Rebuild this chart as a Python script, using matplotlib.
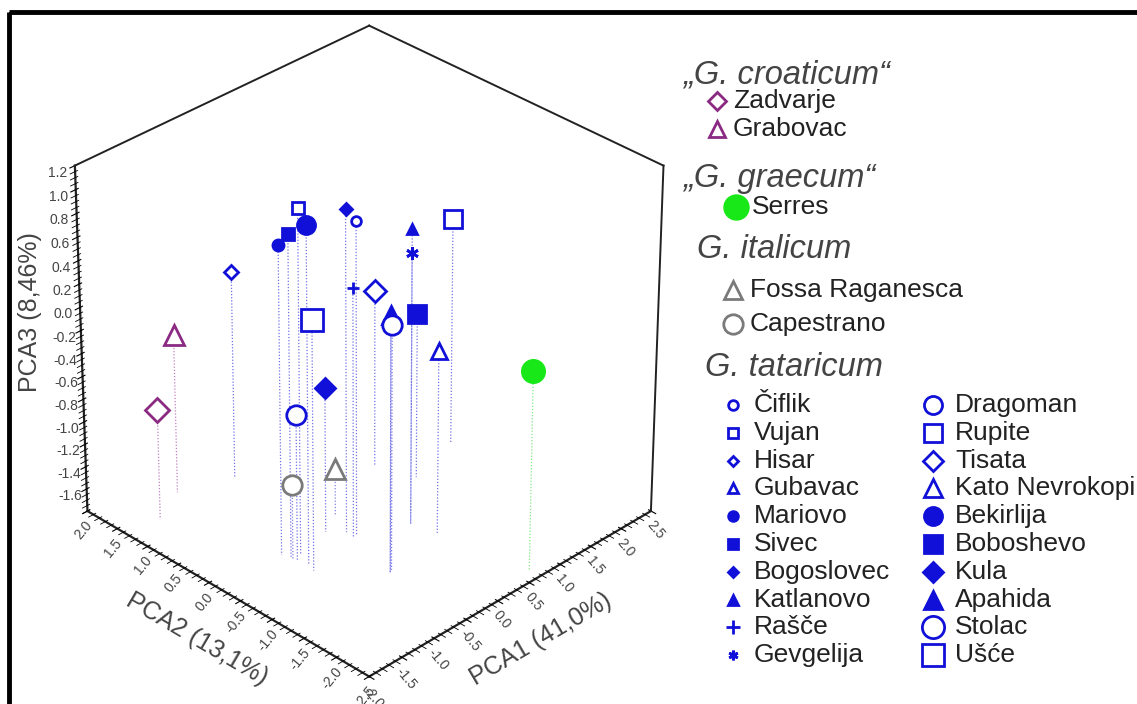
import matplotlib
matplotlib.use('Agg')
import matplotlib.pyplot as plt
from matplotlib.patches import Rectangle
from matplotlib.ticker import AutoMinorLocator

plt.rcParams['font.family'] = ['Liberation Sans', 'DejaVu Sans']
plt.rcParams['axes.unicode_minus'] = False

# population data: PCA1, PCA2, PCA3
names = ['Zadvarje', 'Grabovac', 'Serres', 'Fossa Raganesca', 'Capestrano',
         'Čiflik', 'Vujan', 'Hisar', 'Gubavac', 'Mariovo', 'Sivec', 'Bogoslovec',
         'Katlanovo', 'Rašče', 'Gevgelija',
         'Dragoman', 'Rupite', 'Tisata', 'Kato Nevrokopi', 'Bekirlija', 'Boboshevo',
         'Kula', 'Apahida', 'Stolac', 'Ušće']
pca1 = [-1.52, -1.02, 0.66, -0.09, -1.03,
        -0.19, -0.90, -0.34, -0.45, -1.06, -1.01, -0.23, 0.40, -0.25, 0.40,
        -1.00, 1.91, 0.95, 0.48, -0.97, 1.12, -0.39, -0.45, -0.40, -1.02]
pca2 = [1.31, 1.56, -2.35, -0.05, -0.33,
        -0.49, -0.32, 1.33, -1.28, -0.18, -0.28, -0.37, -0.76, -0.50, -0.76,
        -0.37, 0.08, 0.36, -1.10, -0.52, -0.14, -0.20, -1.28, -1.25, -0.65]
pca3 = [-0.83, -0.40, -0.05, -1.38, -1.14,
        0.93, 1.18, 0.02, 0.40, 0.88, 0.99, 1.00, 0.77, 0.38, 0.57,
        -0.52, 0.20, -0.24, -0.19, 1.12, -0.34, -0.52, 0.44, 0.33, 0.38]
species = ['croaticum', 'croaticum', 'graecum', 'italicum', 'italicum'] + ['tataricum'] * 20
markers = ['D', '^', 'o', '^', 'o',
           'o', 's', 'D', '^', 'o', 's', 'D', '^', '+', (6, 2, 0),
           'o', 's', 'D', '^', 'o', 's', 'D', '^', 'o', 's']
filled = [False, False, True, False, False,
          False, False, False, False, True, True, True, True, True, True,
          False, False, False, False, True, True, True, True, False, False]
msize = [12, 14, 16, 14, 14,
         7, 8, 7, 7, 8, 8, 6.5, 7, 9, 9,
         14, 13, 11, 12, 13, 13, 10, 13, 14, 16]

colors = {'croaticum': '#8a2a82', 'graecum': '#18e818', 'italicum': '#7a7a7a',
          'tataricum': '#1010d8'}
drop_colors = {'croaticum': '#c080c0', 'graecum': '#80e880', 'italicum': '#8080e0',
               'tataricum': '#7070e8'}

headers = ['\u201eG. croaticum\u201c', '\u201eG. graecum\u201c', 'G. italicum', 'G. tataricum']

xlim = (-2.0, 2.5)
ylim = (-2.5, 2.0)
zlim = (-1.8, 1.2)

fig = plt.figure(figsize=(11.37, 7.04), dpi=100)
ax = fig.add_axes([-0.044, -0.02, 0.72, 1.04], projection='3d', computed_zorder=False)
ax.view_init(elev=32, azim=-135)
ax.set_proj_type('persp', focal_length=1.25)
ax.set_box_aspect((1, 1, 1), zoom=0.935)
ax.set_xlim(*xlim)
ax.set_ylim(*ylim)
ax.set_zlim(*zlim)
ax.grid(False)
for a in (ax.xaxis, ax.yaxis, ax.zaxis):
    a.pane.fill = False
    a.pane.set_edgecolor('none')
    a.line.set_color('#222222')
    a.line.set_linewidth(1.6)

ax.set_xticks([-2.0, -1.5, -1.0, -0.5, 0.0, 0.5, 1.0, 1.5, 2.0, 2.5])
ax.set_yticks([-2.5, -2.0, -1.5, -1.0, -0.5, 0.0, 0.5, 1.0, 1.5, 2.0])
ax.set_zticks([-1.6, -1.4, -1.2, -1.0, -0.8, -0.6, -0.4, -0.2, 0.0, 0.2, 0.4, 0.6,
               0.8, 1.0, 1.2])
for a in (ax.xaxis, ax.yaxis, ax.zaxis):
    a.set_major_formatter('{x:.1f}')
    a.set_minor_locator(AutoMinorLocator())
ax.tick_params(axis='both', labelsize=10, labelcolor='#444444', pad=-4)
ax.tick_params(axis='x', labelrotation=-50)
ax.tick_params(axis='y', labelrotation=50)
ax.tick_params(axis='z', pad=0)

ax.set_xlabel('PCA1 (41,0%)', fontsize=18, color='#444444', labelpad=5)
ax.set_ylabel('PCA2 (13,1%)', fontsize=18, color='#444444', labelpad=5)
fig.text(30 / 1137, 1 - 312 / 704, 'PCA3 (8,46%)', fontsize=18, color='#444444',
         rotation=90, ha='center', va='center')

# box outline (silhouette)
ax.plot([xlim[0], xlim[1]], [ylim[1], ylim[1]], [zlim[1], zlim[1]], color='#222222', lw=1.4)
ax.plot([xlim[1], xlim[1]], [ylim[1], ylim[0]], [zlim[1], zlim[1]], color='#222222', lw=1.4)
ax.plot([xlim[1], xlim[1]], [ylim[0], ylim[0]], [zlim[0], zlim[1]], color='#222222', lw=1.4)

# drop lines
for i in range(len(names)):
    ax.plot([pca1[i], pca1[i]], [pca2[i], pca2[i]], [pca3[i], zlim[0]],
            linestyle=(0, (1, 1.5)), lw=0.9, color=drop_colors[species[i]], zorder=1)

# points
for i in range(len(names)):
    c = colors[species[i]]
    ax.plot([pca1[i]], [pca2[i]], [pca3[i]], linestyle='none', marker=markers[i],
            ms=msize[i], mec=c, mfc=c if filled[i] else 'white', mew=2.0,
            zorder=3 if names[i] != 'Gubavac' else 2)

# legend drawn in pixel space on an overlay
lg = fig.add_axes([0, 0, 1, 1])
lg.set_xlim(0, 1137)
lg.set_ylim(704, 0)
lg.axis('off')
lg.add_patch(Rectangle((9, 12), 1200, 800, fill=False, lw=3.5, ec='black'))

header_pos = [(683, 75), (683, 178), (697, 250), (705, 367)]
for (hx, hy), h in zip(header_pos, headers):
    lg.text(hx, hy, h, fontsize=23.5, style='italic', color='#444444', va='center', ha='left')

def leg_item(i, mx, my, tx, size):
    c = colors[species[i]]
    if markers[i] == 'D':
        size = size * 0.8
    lg.plot([mx], [my], linestyle='none', marker=markers[i], ms=size, mec=c,
            mfc=c if filled[i] else 'white', mew=2.0)
    lg.text(tx, my, names[i], fontsize=19, color='#222222', va='center', ha='left')

leg_item(0, 717, 101, 733, 11)
leg_item(1, 717, 129, 733, 12)
leg_item(2, 736, 207, 752, 17)
leg_item(3, 733, 290, 750, 13)
leg_item(4, 733, 324, 750, 14)
for r in range(10):
    leg_item(5 + r, 733, 405 + 27.8 * r, 754, 7 if markers[5 + r] != '+' else 10)
    leg_item(15 + r, 933, 405 + 27.8 * r, 955, 13 if r < 8 else 16)

fig.savefig('out.png', dpi=100)
